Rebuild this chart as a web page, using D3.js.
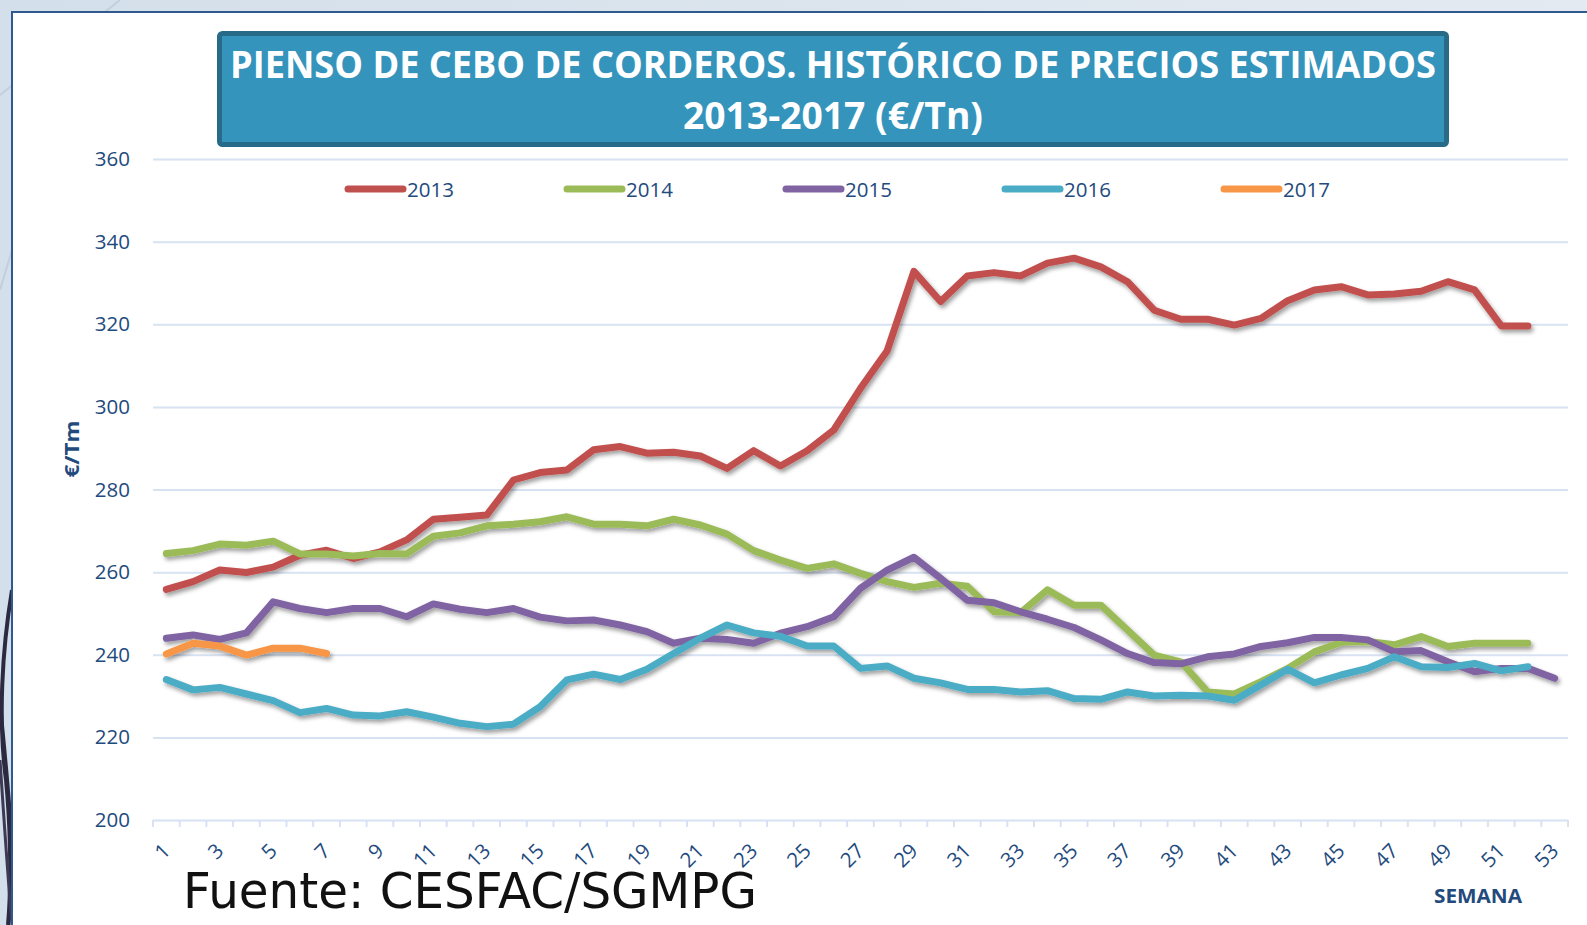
<!DOCTYPE html>
<html>
<head>
<meta charset="utf-8">
<script src="https://cdn.jsdelivr.net/npm/d3@7"></script>
<style>
  body { margin: 0; background: #fff; }
  svg { display: block; }
</style>
</head>
<body>
<div id="chart"></div>
<script>
// weekly estimated prices (€/Tn)
const weeks = d3.range(1, 54);
const yTicks = [200, 220, 240, 260, 280, 300, 320, 340, 360];
const seriesNames = ["2013", "2014", "2015", "2016", "2017"];
const seriesColors = ["#c0504d", "#9bbb59", "#8064a2", "#4bacc6", "#f79646"];

const s2013 = [255.8, 257.7, 260.5, 259.9, 261.2, 264.1, 265.3, 263.3, 264.9, 267.8,
  272.8, 273.3, 273.8, 282.3, 284.1, 284.7, 289.6, 290.4, 288.8, 289.0,
  288.1, 285.1, 289.4, 285.7, 289.4, 294.4, 304.5, 313.6, 332.8, 325.5,
  331.7, 332.5, 331.7, 334.8, 336.0, 333.9, 330.3, 323.4, 321.2, 321.2,
  319.8, 321.4, 325.7, 328.3, 329.1, 327.1, 327.3, 328.0, 330.3, 328.3,
  319.6, 319.6];
const s2014 = [264.5, 265.2, 266.8, 266.5, 267.5, 264.4, 264.4, 263.9, 264.5, 264.4,
  268.7, 269.5, 271.2, 271.6, 272.2, 273.4, 271.6, 271.6, 271.2, 272.8,
  271.4, 269.2, 265.2, 262.9, 260.9, 262.0, 259.7, 257.7, 256.3, 257.3,
  256.6, 250.4, 250.2, 255.7, 252.0, 252.0, 246.0, 239.9, 238.3, 231.0,
  230.5, 233.5, 236.7, 240.7, 243.0, 243.2, 242.4, 244.4, 242.0, 242.8,
  242.8, 242.8];
const s2015 = [244.0, 244.8, 243.7, 245.3, 252.8, 251.2, 250.2, 251.2, 251.2, 249.2,
  252.3, 251.0, 250.2, 251.2, 249.1, 248.2, 248.4, 247.2, 245.6, 242.8,
  244.0, 243.7, 242.8, 245.2, 246.8, 249.2, 256.1, 260.5, 263.6, 258.5,
  253.2, 252.6, 250.4, 248.6, 246.6, 243.6, 240.3, 238.1, 237.8, 239.5,
  240.2, 242.0, 242.9, 244.2, 244.2, 243.6, 240.7, 241.0, 238.3, 235.9,
  236.7, 236.7, 234.3];
const s2016 = [234.0, 231.5, 232.1, 230.5, 228.9, 226.0, 227.0, 225.4, 225.2, 226.2,
  224.9, 223.4, 222.6, 223.2, 227.4, 233.9, 235.3, 234.0, 236.5, 240.3,
  244.0, 247.2, 245.3, 244.5, 242.1, 242.1, 236.7, 237.3, 234.3, 233.2,
  231.6, 231.6, 231.0, 231.3, 229.4, 229.2, 231.0, 230.0, 230.2, 230.0,
  229.0, 232.7, 236.5, 233.2, 235.1, 236.7, 239.5, 237.1, 236.9, 237.9,
  236.1, 237.1];
const s2017 = [240.2, 242.8, 242.1, 239.9, 241.6, 241.6, 240.3];

const allSeries = [s2013, s2014, s2015, s2016, s2017];

const W = 1587, H = 925;
const plot = {left: 153, right: 1568, top: 159, bottom: 820};
const textColor = "#234a7d";
const gridColor = "#d7e2f2";
const font = "'Open Sans', 'DejaVu Sans', sans-serif";

const svg = d3.select("#chart").append("svg")
  .attr("width", W)
  .attr("height", H)
  .style("font-family", font);

const defs = svg.append("defs");
const bg = defs.append("linearGradient").attr("id", "bg")
  .attr("x1", "0").attr("y1", "0").attr("x2", "1").attr("y2", "0");
bg.append("stop").attr("offset", "0").attr("stop-color", "#d3dfea");
bg.append("stop").attr("offset", "1").attr("stop-color", "#e4eaf1");

const shadow = defs.append("filter").attr("id", "shadow")
  .attr("x", "-5%").attr("y", "-20%").attr("width", "110%").attr("height", "140%");
shadow.append("feDropShadow")
  .attr("dx", 2).attr("dy", 3)
  .attr("stdDeviation", 2)
  .attr("flood-color", "#000")
  .attr("flood-opacity", 0.38);

// slide background + frame
svg.append("rect").attr("width", W).attr("height", H).attr("fill", "url(#bg)");
svg.append("line")
  .attr("x1", 120).attr("y1", 0).attr("x2", 0).attr("y2", 95)
  .attr("stroke", "#c3cfdc").attr("stroke-width", 2);
svg.append("line")
  .attr("x1", 12).attr("y1", 250).attr("x2", 0).attr("y2", 290)
  .attr("stroke", "#c3cfdc").attr("stroke-width", 2);

// dark swooshes on the left strip
const sw = svg.append("g").attr("fill", "none").attr("stroke", "#2c2a40");
sw.append("path").attr("d", "M12,590 C2,650 -2,720 6,780 C10,820 12,880 8,925").attr("stroke-width", 4);
sw.append("path").attr("d", "M0,700 C6,760 10,800 12,840").attr("stroke-width", 3);
sw.append("path").attr("d", "M0,760 C4,820 8,880 12,925").attr("stroke-width", 3).attr("stroke", "#3c3a55");

svg.append("rect")
  .attr("x", 12).attr("y", 12)
  .attr("width", W).attr("height", H)
  .attr("fill", "#fff")
  .attr("stroke", "#2f5a8f").attr("stroke-width", 2);

// scales
const x = d3.scaleBand()
  .domain(weeks)
  .range([plot.left, plot.right])
  .paddingInner(0).paddingOuter(0);

const y = d3.scaleLinear()
  .domain([200, 360])
  .range([plot.bottom, plot.top]);

const cx = w => x(w) + x.bandwidth() / 2;

// gridlines + y labels
const yAxis = svg.append("g")
  .attr("transform", `translate(${plot.left},0)`)
  .call(d3.axisLeft(y).tickValues(yTicks).tickSize(-(plot.right - plot.left)).tickPadding(23));
yAxis.select(".domain").remove();
yAxis.selectAll(".tick line").attr("stroke", gridColor).attr("stroke-width", 2);
yAxis.selectAll(".tick text")
  .attr("fill", textColor)
  .style("font-size", "20.5px")
  .style("font-family", font);

// x axis: ticks between categories
const xAxis = svg.append("g");
xAxis.selectAll("line.tk")
  .data(weeks.concat([null]))
  .enter().append("line")
  .attr("class", "tk")
  .attr("x1", d => d === null ? plot.right : x(d))
  .attr("x2", d => d === null ? plot.right : x(d))
  .attr("y1", plot.bottom)
  .attr("y2", plot.bottom + 7)
  .attr("stroke", gridColor).attr("stroke-width", 2);

xAxis.selectAll("text")
  .data(weeks.filter(w => w % 2 === 1))
  .enter().append("text")
  .attr("transform", d => `translate(${cx(d)},847) rotate(-45)`)
  .attr("text-anchor", "end")
  .attr("dy", "0.35em")
  .attr("fill", textColor)
  .style("font-size", "20.5px")
  .text(d => d);

// lines
const line = d3.line()
  .x((d, i) => cx(weeks[i]))
  .y(d => y(d));

svg.append("g")
  .attr("filter", "url(#shadow)")
  .selectAll("path")
  .data(allSeries)
  .enter().append("path")
  .attr("d", line)
  .attr("fill", "none")
  .attr("stroke", (d, i) => seriesColors[i])
  .attr("stroke-width", 7)
  .attr("stroke-linejoin", "round")
  .attr("stroke-linecap", "round");

// legend
const legend = svg.append("g")
  .selectAll("g")
  .data(seriesNames)
  .enter().append("g")
  .attr("transform", (d, i) => `translate(${348 + i * 219},189)`);

legend.append("line")
  .attr("x1", 0).attr("x2", 55)
  .attr("stroke", (d, i) => seriesColors[i])
  .attr("stroke-width", 7)
  .attr("stroke-linecap", "round");

legend.append("text")
  .attr("x", 59)
  .attr("y", 8)
  .attr("fill", textColor)
  .style("font-size", "20.5px")
  .text(d => d);

// title box
svg.append("rect")
  .attr("x", 219.5).attr("y", 33.5)
  .attr("width", 1227).attr("height", 111)
  .attr("rx", 3)
  .attr("fill", "#3594bb")
  .attr("stroke", "#276b88")
  .attr("stroke-width", 5);

svg.append("text")
  .attr("x", 833).attr("y", 78)
  .attr("text-anchor", "middle")
  .attr("fill", "#fff")
  .attr("textLength", 1206)
  .attr("lengthAdjust", "spacingAndGlyphs")
  .style("font-size", "37px")
  .style("font-weight", "bold")
  .text("PIENSO DE CEBO DE CORDEROS. HISTÓRICO DE PRECIOS ESTIMADOS");

svg.append("text")
  .attr("x", 833).attr("y", 129)
  .attr("text-anchor", "middle")
  .attr("fill", "#fff")
  .attr("textLength", 300)
  .attr("lengthAdjust", "spacingAndGlyphs")
  .style("font-size", "37px")
  .style("font-weight", "bold")
  .text("2013-2017 (€/Tn)");

// axis titles
svg.append("text")
  .attr("transform", "translate(79,449) rotate(-90)")
  .attr("text-anchor", "middle")
  .attr("fill", textColor)
  .attr("textLength", 57)
  .attr("lengthAdjust", "spacingAndGlyphs")
  .style("font-size", "19px")
  .style("font-weight", "bold")
  .text("€/Tm");

svg.append("text")
  .attr("x", 1478).attr("y", 903)
  .attr("text-anchor", "middle")
  .attr("fill", textColor)
  .attr("textLength", 88)
  .attr("lengthAdjust", "spacingAndGlyphs")
  .style("font-size", "20px")
  .style("font-weight", "bold")
  .text("SEMANA");

// source note
svg.append("text")
  .attr("x", 183).attr("y", 908)
  .attr("fill", "#111")
  .attr("textLength", 574)
  .attr("lengthAdjust", "spacingAndGlyphs")
  .style("font-family", "'DejaVu Sans', sans-serif")
  .style("font-size", "50px")
  .text("Fuente: CESFAC/SGMPG");
</script>
</body>
</html>
